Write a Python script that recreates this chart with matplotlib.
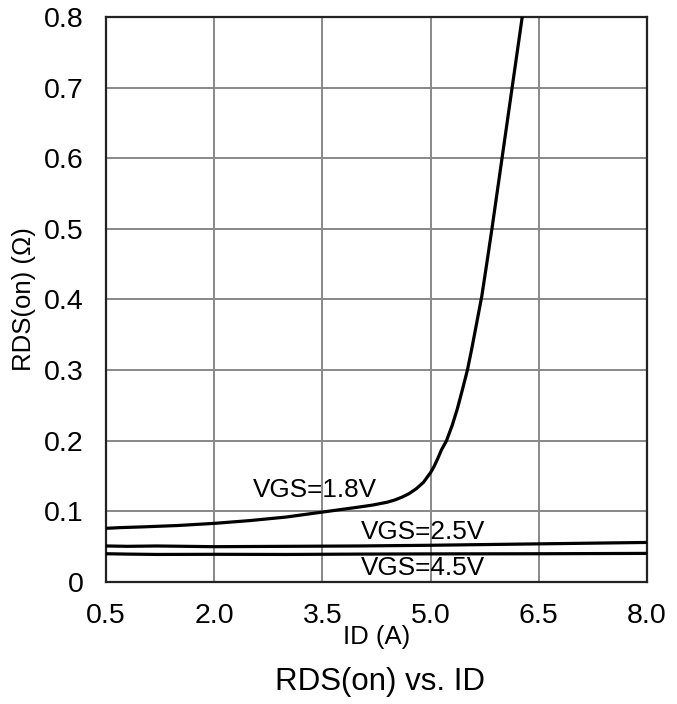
import numpy as np
import matplotlib
matplotlib.use('Agg')
import matplotlib.pyplot as plt
from matplotlib.ticker import FuncFormatter

plt.rcParams['font.family'] = ['Liberation Sans', 'DejaVu Sans']

# VGS = 1.8 V curve
id_18  = [0.5, 0.7, 1.0, 1.5, 2.0, 2.5, 3.0, 3.5, 4.0, 4.2, 4.4, 4.5, 4.6, 4.7,
          4.8, 4.9, 5.0, 5.05, 5.1, 5.15, 5.22, 5.3, 5.37, 5.44, 5.51, 5.57,
          5.63, 5.71, 5.78, 5.85, 5.92, 5.99, 6.13, 6.27]
rds_18 = [0.076, 0.077, 0.078, 0.080, 0.083, 0.087, 0.092, 0.099, 0.106, 0.109,
          0.113, 0.116, 0.120, 0.125, 0.132, 0.141, 0.155, 0.164, 0.175, 0.187,
          0.200, 0.222, 0.245, 0.272, 0.300, 0.330, 0.362, 0.405, 0.452, 0.500,
          0.550, 0.600, 0.700, 0.800]

# VGS = 2.5 V and 4.5 V curves
id_flat = [0.5, 0.8, 1.2, 2.0, 3.0, 4.0, 5.0, 6.5, 8.0]
rds_25  = [0.051, 0.0505, 0.0510, 0.0500, 0.0505, 0.0510, 0.0520, 0.0540, 0.0560]
rds_45  = [0.0400, 0.0395, 0.0390, 0.0392, 0.0390, 0.0395, 0.0398, 0.0400, 0.0405]

x_ticks = [0.5, 2.0, 3.5, 5.0, 6.5, 8.0]
y_ticks = [0, 0.1, 0.2, 0.3, 0.4, 0.5, 0.6, 0.7, 0.8]

fig = plt.figure(figsize=(6.77, 7.04), dpi=100)
ax = fig.add_axes([0.1566, 0.1733, 0.7991, 0.8026])

ax.plot(id_18, rds_18, color='black', linewidth=2.3, zorder=3)
ax.plot(id_flat, rds_25, color='black', linewidth=2.3, zorder=3)
ax.plot(id_flat, rds_45, color='black', linewidth=2.3, zorder=3)

ax.text(3.40, 0.130, 'VGS=1.8V', fontsize=18.8, ha='center', va='center', zorder=2)
ax.text(4.90, 0.0708, 'VGS=2.5V', fontsize=18.8, ha='center', va='center', zorder=2)
ax.text(4.90, 0.0198, 'VGS=4.5V', fontsize=18.8, ha='center', va='center', zorder=2)

ax.set_xlim(0.5, 8.0)
ax.set_ylim(0, 0.8)
ax.set_xticks(x_ticks)
ax.set_yticks(y_ticks)
ax.xaxis.set_major_formatter(FuncFormatter(lambda v, p: f'{v:.1f}'))
ax.yaxis.set_major_formatter(FuncFormatter(lambda v, p: '0' if v == 0 else f'{v:.1f}'))
ax.tick_params(length=0, labelsize=20.5)
ax.tick_params(axis='x', pad=15)
ax.tick_params(axis='y', pad=16)
ax.grid(color='#888888', linewidth=1.4, zorder=1)
ax.set_axisbelow(True)
for s in ax.spines.values():
    s.set_linewidth(1.6)
    s.set_color('#222222')

ax.set_xlabel('ID (A)', fontsize=18.5, labelpad=-3)
ax.set_ylabel('RDS(on) (Ω)', fontsize=18.5, labelpad=6)
fig.text(0.561, 0.031, 'RDS(on) vs. ID', fontsize=22.5, ha='center', va='center')

plt.savefig('out.png', dpi=100)
plt.close()
